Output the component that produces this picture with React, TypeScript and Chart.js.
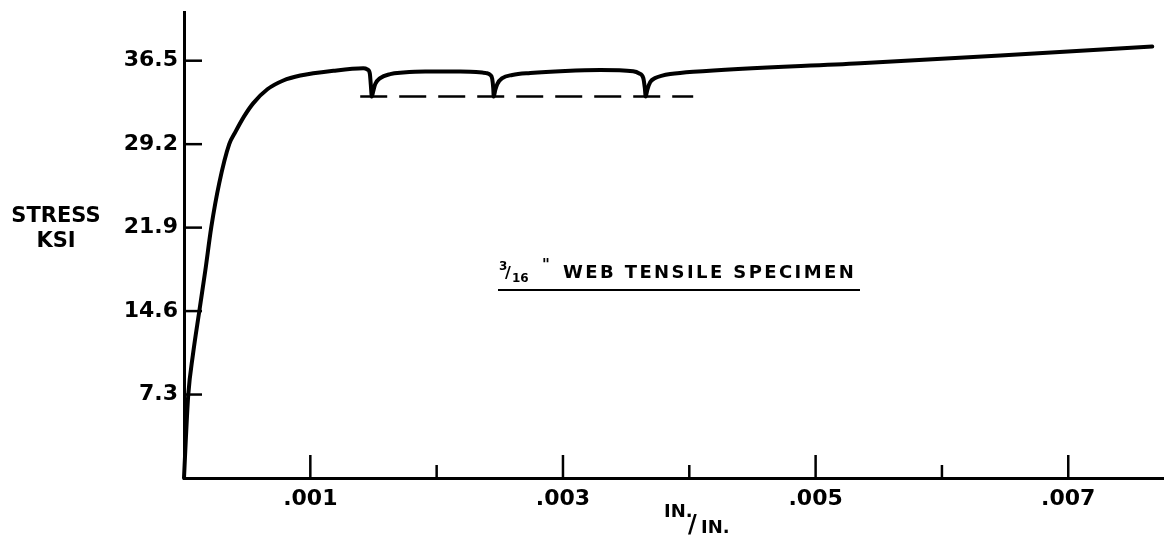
import React, { useEffect, useRef } from 'react';
import { Chart, registerables } from 'chart.js';

Chart.register(...registerables);

// Stress-strain curve (strain in in./in., stress in ksi)
const STRAIN = [
  0, 0.000014, 0.000034, 0.00007, 0.000121, 0.000169, 0.000216, 0.000279, 0.000358, 0.000406,
  0.000477, 0.000549, 0.00066, 0.000786, 0.000921, 0.001183, 0.001419, 0.001452, 0.001471,
  0.001479, 0.001487, 0.001498, 0.001514, 0.001553, 0.001632, 0.001735, 0.00191, 0.002187, 0.002361,
  0.002393, 0.002425, 0.00244, 0.002448, 0.002452, 0.002464, 0.00248, 0.00252, 0.002599, 0.002741,
  0.003018, 0.003295, 0.003556, 0.003604, 0.003636, 0.003648, 0.003655, 0.003667, 0.003691, 0.00373,
  0.003786, 0.003849, 0.004031, 0.005354, 0.006462, 0.007665,
];
const STRESS = [
  0, 3.28, 7.31, 10.73, 14.58, 18.17, 21.94, 25.79, 29.2, 30.25,
  31.65, 32.79, 34.0, 34.77, 35.2, 35.62, 35.83, 35.73, 35.38,
  34.37, 33.36, 33.84, 34.46, 34.98, 35.33, 35.46, 35.55, 35.55, 35.46,
  35.42, 35.25, 34.91, 34.11, 33.36, 33.93, 34.46, 34.98, 35.25, 35.42,
  35.6, 35.68, 35.57, 35.38, 34.98, 34.11, 33.36, 33.93, 34.63, 34.98,
  35.2, 35.33, 35.53, 36.28, 36.95, 37.74,
];

// Dashed lower yield level
const YIELD_STRAIN = [0.001395, 0.004031];
const YIELD_STRESS = [33.36, 33.36];

const X_TICKS = [0.001, 0.002, 0.003, 0.004, 0.005, 0.006, 0.007];
const X_TICK_LABELS = ['.001', '', '.003', '', '.005', '', '.007'];
const X_MAJOR = [true, false, true, false, true, false, true];
const Y_TICKS = [7.3, 14.6, 21.9, 29.2, 36.5];
const Y_TICK_LABELS = ['7.3', '14.6', '21.9', '29.2', '36.5'];

const X_MAX = 0.00775;
const Y_MAX = 40.76;

const FONT = '"DejaVu Sans", "Liberation Sans", sans-serif';

const decorPlugin = {
  id: 'decor',
  afterDraw(chart: any) {
    const { ctx, chartArea, scales } = chart;
    const xs = scales.x;
    const ys = scales.y;
    ctx.save();
    ctx.strokeStyle = '#000';
    ctx.fillStyle = '#000';
    ctx.lineWidth = 2.5;
    ctx.lineCap = 'butt';
    // inward tick marks
    Y_TICKS.forEach((v) => {
      const py = ys.getPixelForValue(v);
      ctx.beginPath();
      ctx.moveTo(chartArea.left, py);
      ctx.lineTo(chartArea.left + 18, py);
      ctx.stroke();
    });
    X_TICKS.forEach((v, i) => {
      const px = xs.getPixelForValue(v);
      const len = X_MAJOR[i] ? 23 : 13;
      ctx.beginPath();
      ctx.moveTo(px, chartArea.bottom);
      ctx.lineTo(px, chartArea.bottom - len);
      ctx.stroke();
    });

    // axis titles
    ctx.textAlign = 'center';
    ctx.textBaseline = 'alphabetic';
    ctx.font = `bold 21px ${FONT}`;
    ctx.fillText('STRESS', 56, 222);
    ctx.fillText('KSI', 56, 247);

    ctx.textAlign = 'left';
    ctx.font = `bold 18px ${FONT}`;
    ctx.fillText('IN.', 664, 517);
    ctx.font = `bold 24px ${FONT}`;
    ctx.fillText('/', 688, 532);
    ctx.font = `bold 18px ${FONT}`;
    ctx.fillText('IN.', 701, 533);

    // specimen label
    ctx.font = `bold 12px ${FONT}`;
    ctx.fillText('3', 499, 270);
    ctx.font = `bold 16px ${FONT}`;
    ctx.fillText('/', 505, 278);
    ctx.font = `bold 12px ${FONT}`;
    ctx.fillText('16', 512, 282);
    ctx.font = `bold 15px ${FONT}`;
    ctx.fillText('"', 542, 270);
    ctx.font = `bold 18px ${FONT}`;
    (ctx as any).letterSpacing = '2.4px';
    ctx.fillText('WEB TENSILE SPECIMEN', 563, 278);
    (ctx as any).letterSpacing = '0px';
    ctx.lineWidth = 2;
    ctx.beginPath();
    ctx.moveTo(498, 290);
    ctx.lineTo(860, 290);
    ctx.stroke();
    ctx.restore();
  },
};

export default function App() {
  const canvasRef = useRef<HTMLCanvasElement | null>(null);

  useEffect(() => {
    if (!canvasRef.current) return;
    const curve = STRAIN.map((x, i) => ({ x, y: STRESS[i] }));
    const yieldLine = YIELD_STRAIN.map((x, i) => ({ x, y: YIELD_STRESS[i] }));
    const chart = new Chart(canvasRef.current, {
      type: 'scatter',
      data: {
        datasets: [
          {
            data: curve,
            showLine: true,
            borderColor: '#000',
            borderWidth: 4,
            pointRadius: 0,
            cubicInterpolationMode: 'monotone',
            borderCapStyle: 'round',
            borderJoinStyle: 'round',
            clip: 10,
          } as any,
          {
            data: yieldLine,
            showLine: true,
            borderColor: '#000',
            borderWidth: 2.5,
            pointRadius: 0,
            borderDash: [27, 12],
            borderDashOffset: 0,
          } as any,
        ],
      },
      options: {
        responsive: false,
        animation: false,
        devicePixelRatio: 1,
        events: [],
        layout: { padding: { top: 12, right: 4, left: 0, bottom: 0 } },
        plugins: { legend: { display: false }, tooltip: { enabled: false } },
        scales: {
          x: {
            type: 'linear',
            min: 0,
            max: X_MAX,
            afterBuildTicks: (s: any) => {
              s.ticks = X_TICKS.map((value) => ({ value }));
            },
            afterFit: (s: any) => {
              s.height = 60;
              s.paddingLeft = 0;
              s.paddingRight = 0;
            },
            grid: { display: true, drawOnChartArea: false, drawTicks: false, color: '#000' },
            border: { display: true, color: '#000', width: 3 },
            ticks: {
              autoSkip: false,
              maxRotation: 0,
              padding: 8,
              color: '#000',
              font: { family: FONT, size: 22, weight: 'bold' },
              callback: (_v: any, i: number) => X_TICK_LABELS[i],
            },
          },
          y: {
            type: 'linear',
            min: 0,
            max: Y_MAX,
            afterBuildTicks: (s: any) => {
              s.ticks = Y_TICKS.map((value) => ({ value }));
            },
            afterFit: (s: any) => {
              s.width = 184;
              s.paddingTop = 0;
              s.paddingBottom = 0;
            },
            grid: { display: true, drawOnChartArea: false, drawTicks: false, color: '#000' },
            border: { display: true, color: '#000', width: 3 },
            ticks: {
              autoSkip: false,
              padding: 6,
              color: '#000',
              font: { family: FONT, size: 22, weight: 'bold' },
              callback: (_v: any, i: number) => Y_TICK_LABELS[i],
            },
          },
        },
      } as any,
      plugins: [decorPlugin],
    });
    return () => chart.destroy();
  }, []);

  return (
    <div style={{ position: 'fixed', left: 0, top: 0, width: 1167, height: 538, background: '#fff' }}>
      <canvas ref={canvasRef} width={1167} height={538} style={{ display: 'block', width: 1167, height: 538 }} />
    </div>
  );
}
